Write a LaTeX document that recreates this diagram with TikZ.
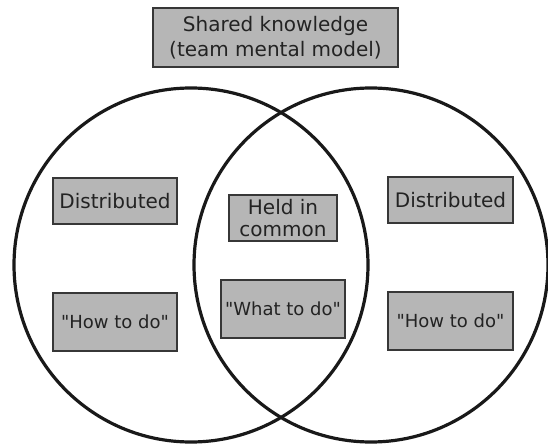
\documentclass[tikz,border=0pt]{standalone}
\usepackage{fontspec}
\setmainfont{DejaVu Sans}
\definecolor{boxgray}{RGB}{182,182,182}
\definecolor{txt}{RGB}{35,35,35}
\definecolor{edge}{RGB}{55,55,55}
\newcommand{\qq}{\textquotedbl}
\begin{document}
\begin{tikzpicture}[x=1pt,y=-1pt,
  gbox/.style={draw=edge,line width=1.4pt,fill=boxgray,text=txt,inner sep=0pt,align=center,font=\fontsize{20}{22}\selectfont},
  qbox/.style={gbox,font=\fontsize{18}{22}\selectfont},
  ring/.style={draw=black!90,line width=3.2pt}]
\useasboundingbox (0,0) rectangle (548,446);
\begin{scope}
\clip (0,0) rectangle (548,446);
\draw[ring] (191,265) circle[radius=177];
\draw[ring] (371,265) circle[radius=177];
\end{scope}
\node[gbox,minimum width=245pt,minimum height=59pt,font=\fontsize{20}{25}\selectfont] (shared) at (275.5,37.5) {Shared knowledge\\(team mental model)};
\node[gbox,minimum width=124pt,minimum height=46pt] (ld) at (115,201) {Distributed};
\node[qbox,minimum width=124pt,minimum height=58pt] (lh) at (115,322) {\qq How to do\qq};
\node[gbox,minimum width=108pt,minimum height=46pt] (hc) at (283,218) {Held in\\common};
\node[qbox,minimum width=124pt,minimum height=58pt] (wt) at (283,309) {\qq What to do\qq};
\node[gbox,minimum width=125pt,minimum height=46pt] (rd) at (450.5,200) {Distributed};
\node[qbox,minimum width=125pt,minimum height=58pt] (rh) at (450.5,321) {\qq How to do\qq};
\end{tikzpicture}
\end{document}
